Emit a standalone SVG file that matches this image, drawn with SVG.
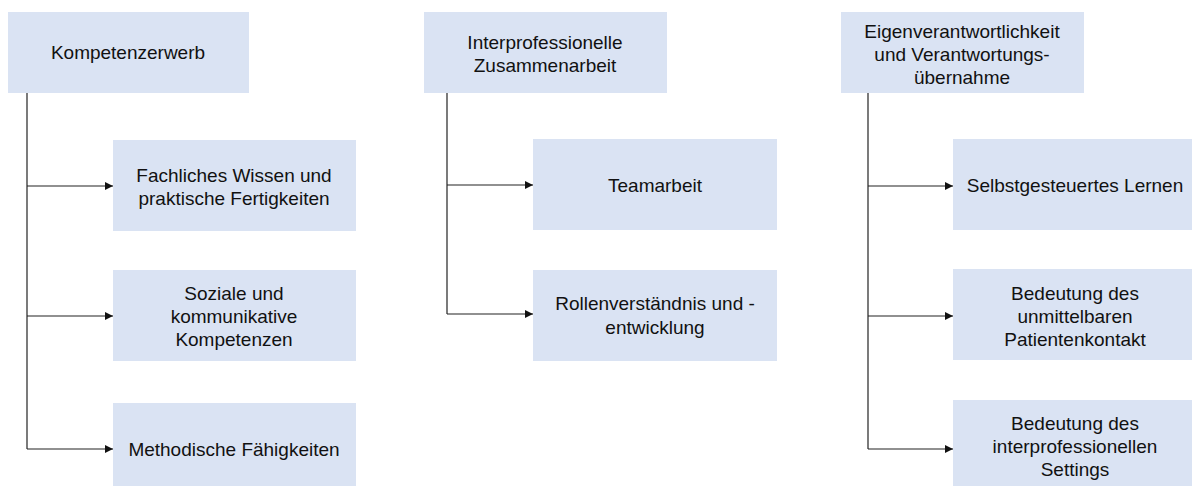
<svg xmlns="http://www.w3.org/2000/svg" width="1192" height="486" viewBox="0 0 1192 486">
<style>
.box{fill:#dae3f3;}
.t{font-family:"Liberation Sans",Arial,sans-serif;font-size:19px;fill:#111;text-anchor:middle;}
.c{fill:none;stroke:#222;stroke-width:1.2;}
</style>
<defs>
<marker id="ah" viewBox="0 0 10 10" refX="10" refY="5" markerWidth="8" markerHeight="8" markerUnits="userSpaceOnUse" orient="auto">
<path d="M0,0 L10,5 L0,10 z" fill="#111"/>
</marker>
</defs>
<rect width="1192" height="486" fill="#fff"/>
<g id="connectors">
<path class="c" d="M27,93 V449"/>
<path class="c" d="M27,186 H113" marker-end="url(#ah)"/>
<path class="c" d="M27,316 H113" marker-end="url(#ah)"/>
<path class="c" d="M27,449 H113" marker-end="url(#ah)"/>
<path class="c" d="M447,93 V314"/>
<path class="c" d="M447,185 H533" marker-end="url(#ah)"/>
<path class="c" d="M447,314 H533" marker-end="url(#ah)"/>
<path class="c" d="M868,93 V449"/>
<path class="c" d="M868,186 H953" marker-end="url(#ah)"/>
<path class="c" d="M868,316 H953" marker-end="url(#ah)"/>
<path class="c" d="M868,449 H953" marker-end="url(#ah)"/>
</g>
<g id="n1"><rect class="box" x="8" y="12" width="241" height="81"/><text class="t" x="128" y="59">Kompetenzerwerb</text></g>
<g id="n1a"><rect class="box" x="113" y="140" width="243" height="91"/><text class="t" x="234" y="182">Fachliches Wissen und</text><text class="t" x="234" y="205">praktische Fertigkeiten</text></g>
<g id="n1b"><rect class="box" x="113" y="270" width="243" height="91"/><text class="t" x="234" y="300">Soziale und</text><text class="t" x="234" y="323">kommunikative</text><text class="t" x="234" y="346">Kompetenzen</text></g>
<g id="n1c"><rect class="box" x="113" y="403" width="243" height="91"/><text class="t" x="234" y="456">Methodische Fähigkeiten</text></g>
<g id="n2"><rect class="box" x="424" y="12" width="243" height="81"/><text class="t" x="545" y="49">Interprofessionelle</text><text class="t" x="545" y="72">Zusammenarbeit</text></g>
<g id="n2a"><rect class="box" x="533" y="139" width="244" height="91"/><text class="t" x="655" y="192">Teamarbeit</text></g>
<g id="n2b"><rect class="box" x="533" y="270" width="244" height="91"/><text class="t" x="655" y="310">Rollenverständnis und -</text><text class="t" x="655" y="334">entwicklung</text></g>
<g id="n3"><rect class="box" x="841" y="12" width="243" height="81"/><text class="t" x="962" y="38">Eigenverantwortlichkeit</text><text class="t" x="962" y="61">und Verantwortungs-</text><text class="t" x="962" y="84">übernahme</text></g>
<g id="n3a"><rect class="box" x="953" y="139" width="243" height="91"/><text class="t" x="1075" y="192">Selbstgesteuertes Lernen</text></g>
<g id="n3b"><rect class="box" x="953" y="269" width="243" height="91"/><text class="t" x="1075" y="300">Bedeutung des</text><text class="t" x="1075" y="323">unmittelbaren</text><text class="t" x="1075" y="346">Patientenkontakt</text></g>
<g id="n3c"><rect class="box" x="953" y="400" width="243" height="91"/><text class="t" x="1075" y="430">Bedeutung des</text><text class="t" x="1075" y="453">interprofessionellen</text><text class="t" x="1075" y="476">Settings</text></g>
</svg>
